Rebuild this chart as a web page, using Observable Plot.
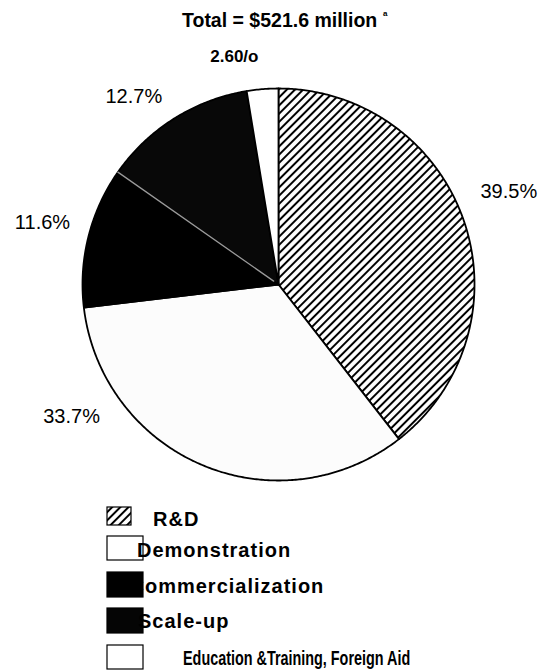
<!DOCTYPE html>
<html>
<head>
<meta charset="utf-8">
<script src="https://cdn.jsdelivr.net/npm/d3@7"></script>
<script src="https://cdn.jsdelivr.net/npm/@observablehq/plot@0.6"></script>
<style>
  body { margin: 0; background: #fff; }
  #wrap { position: relative; width: 547px; height: 672px; overflow: hidden; background: #fff; }
  #chart { position: absolute; left: 0; top: 35px; }
  #overlay { position: absolute; left: 0; top: 0; pointer-events: none; }
</style>
</head>
<body>
<div id="wrap">
  <div id="chart"></div>
  <svg id="overlay" width="547" height="672"></svg>
</div>
<script>
// ---- data ----
const categories = ["R&D", "Demonstration", "Commercialization", "Scale-up", "Education &Training, Foreign Aid"];
const shares = [39.5, 33.7, 11.6, 12.7, 2.6];
const shareLabels = ["39.5%", "33.7%", "11.6%", "12.7%", "2.60/o"];
const titleText = "Total = $521.6 million";
const titleNote = "a";

// ---- styles / layout (not data) ----
const sliceFills = ["url(#hatch)", "#fcfcfc", "#000000", "#080808", "#ffffff"];
const labelLayout = [
  {nudge: -5.8, radius: 1.135, anchor: "start", bold: false},
  {nudge: 30.8, radius: 1.134, anchor: "end", bold: false},
  {nudge: 2.4, radius: 1.109, anchor: "end", bold: false},
  {nudge: -5.4, radius: 1.21, anchor: "middle", bold: false},
  {nudge: -6.3, radius: 1.183, anchor: "middle", bold: true}
];

const rows = categories.map((c, i) => ({category: c, share: shares[i], label: shareLabels[i], idx: i}));
const arcs = d3.pie().sort(null).value(d => d.share)(rows);

// slice outlines in pie (unit circle) coordinates
const slices = arcs.map(a => {
  const n = Math.max(4, Math.ceil((a.endAngle - a.startAngle) / (Math.PI / 360)));
  const pts = [{x: 0, y: 0}];
  for (let i = 0; i <= n; i++) {
    const t = a.startAngle + (a.endAngle - a.startAngle) * i / n;
    pts.push({x: Math.sin(t), y: Math.cos(t)});
  }
  pts.push({x: 0, y: 0});
  return pts;
});

// light boundary between the two dark slices
const bAngle = arcs[3].startAngle;
const boundary = [{x: 0.03 * Math.sin(bAngle), y: 0.03 * Math.cos(bAngle)}, {x: Math.sin(bAngle), y: Math.cos(bAngle)}];

const labelRows = arcs.map((a, i) => {
  const mid = (a.startAngle + a.endAngle) / 2 + labelLayout[i].nudge * Math.PI / 180;
  const r = labelLayout[i].radius;
  return {x: r * Math.sin(mid), y: r * Math.cos(mid), text: a.data.label, i};
});

const marks = [];
slices.forEach((pts, i) => {
  marks.push(Plot.line(pts, {x: "x", y: "y", fill: sliceFills[i], stroke: "black", strokeWidth: 1.8, strokeLinejoin: "round"}));
});
marks.push(Plot.line(boundary, {x: "x", y: "y", stroke: "#9a9a9a", strokeWidth: 1.3}));
labelRows.forEach((d, i) => {
  const L = labelLayout[i];
  marks.push(Plot.text([d], {
    x: "x", y: "y", text: "text",
    textAnchor: L.anchor, lineAnchor: "middle",
    fontSize: L.bold ? 17 : 20, fontWeight: L.bold ? "bold" : "normal",
    fill: "black"
  }));
});

const svg = Plot.plot({
  width: 547,
  height: 470,
  x: {domain: [-1, 1], range: [82, 474], axis: null},
  y: {domain: [-1, 1], range: [445, 53], axis: null},
  style: {fontFamily: "'Liberation Sans', Arial, sans-serif", background: "white", overflow: "visible"},
  marks
});

function addHatch(target, id) {
  const defs = document.createElementNS("http://www.w3.org/2000/svg", "defs");
  defs.innerHTML = `<pattern id="${id}" patternUnits="userSpaceOnUse" width="5.8" height="10" patternTransform="rotate(45)">
    <rect width="5.8" height="10" fill="white"/>
    <line x1="2.9" y1="-1" x2="2.9" y2="11" stroke="black" stroke-width="2"/>
  </pattern>`;
  target.insertBefore(defs, target.firstChild);
}
addHatch(svg, "hatch");
document.getElementById("chart").appendChild(svg);

// ---- title & legend overlay ----
const ov = d3.select("#overlay");
addHatch(ov.node(), "hatch2");
const font = "'Liberation Sans', Arial, sans-serif";
ov.append("text").attr("x", 182).attr("y", 27).attr("font-family", font).attr("font-weight", "bold")
  .attr("font-size", 19.5).text(titleText);
ov.append("text").attr("x", 383).attr("y", 16).attr("font-family", font).attr("font-weight", "bold")
  .attr("font-size", 8).text(titleNote);

const legendLayout = [
  {sx: 107, sy: 507, sw: 24, sh: 18, tx: 153, ty: 526, fill: "url(#hatch2)", narrow: false},
  {sx: 107, sy: 536, sw: 36, sh: 24, tx: 137, ty: 557, fill: "#ffffff", narrow: false},
  {sx: 107, sy: 572, sw: 36, sh: 25, tx: 129.5, ty: 593, fill: "#000000", narrow: false},
  {sx: 107, sy: 608, sw: 36, sh: 25, tx: 138, ty: 628, fill: "#050505", narrow: false},
  {sx: 107, sy: 645, sw: 36, sh: 24, tx: 183, ty: 665, fill: "#ffffff", narrow: true}
];
categories.forEach((c, i) => {
  const L = legendLayout[i];
  ov.append("rect").attr("x", L.sx).attr("y", L.sy).attr("width", L.sw).attr("height", L.sh)
    .attr("fill", L.fill).attr("stroke", "black").attr("stroke-width", 1.2);
  const t = ov.append("text").attr("font-family", font).attr("font-weight", "bold").attr("font-size", 20).text(c);
  if (L.narrow) {
    t.attr("transform", `translate(${L.tx},${L.ty}) scale(0.72,1)`);
  } else {
    t.attr("x", L.tx).attr("y", L.ty).attr("letter-spacing", 1);
  }
});
</script>
</body>
</html>
